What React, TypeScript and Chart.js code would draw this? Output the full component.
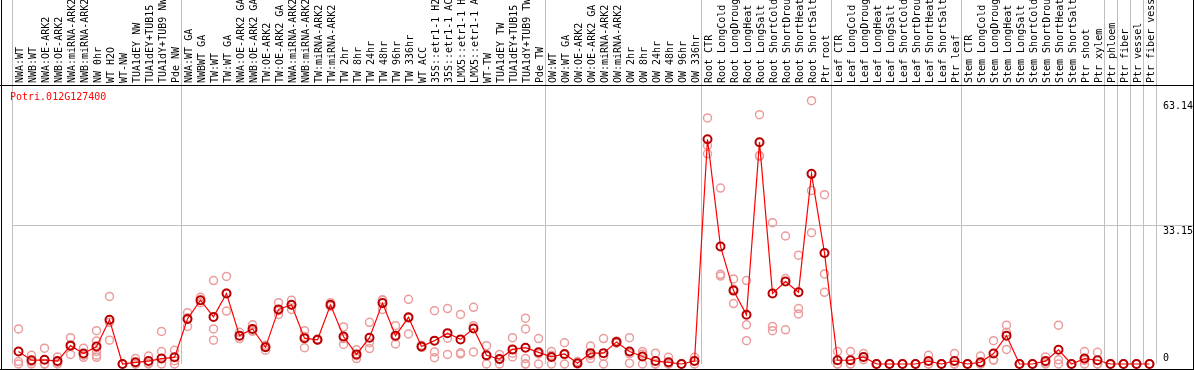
import React, { useEffect, useRef } from 'react';
import { Chart, registerables } from 'chart.js';

Chart.register(...registerables);

const geneId = 'Potri.012G127400';

const categories = [
  'NWA:WT', 'NWB:WT', 'NWA:OE-ARK2', 'NWB:OE-ARK2', 'NWA:miRNA-ARK2', 'NWB:miRNA-ARK2',
  'NW 0hr', 'WT H2O', 'WT-NW', 'TUA1dEY NW', 'TUA1dEY+TUB15 NW', 'TUA1dY+TUB9 NW', 'Pde NW',
  'NWA:WT GA', 'NWBWT GA', 'TW:WT', 'TW:WT GA', 'NWA:OE-ARK2 GA', 'NWB:OE-ARK2 GA',
  'TW:OE-ARK2', 'TW:OE-ARK2 GA', 'NWA:miRNA-ARK2 GA', 'NWB:miRNA-ARK2 GA', 'TW:miRNA-ARK2',
  'TW:miRNA-ARK2 GA', 'TW 2hr', 'TW 8hr', 'TW 24hr', 'TW 48hr', 'TW 96hr', 'TW 336hr', 'WT ACC',
  '35S::etr1-1 H2O', '35S::etr1-1 ACC', 'LMX5::etr1-1 H2O', 'LMX5::etr1-1 ACC', 'WT-TW',
  'TUA1dEY TW', 'TUA1dEY+TUB15 TW', 'TUA1dY+TUB9 TW', 'Pde TW',
  'OW:WT', 'OW:WT GA', 'OW:OE-ARK2', 'OW:OE-ARK2 GA', 'OW:miRNA-ARK2', 'OW:miRNA-ARK2 GA',
  'OW 2hr', 'OW 8hr', 'OW 24hr', 'OW 48hr', 'OW 96hr', 'OW 336hr',
  'Root CTR', 'Root LongCold', 'Root LongDrought', 'Root LongHeat', 'Root LongSalt',
  'Root ShortCold', 'Root ShortDrought', 'Root ShortHeat', 'Root ShortSalt', 'Ptr root',
  'Leaf CTR', 'Leaf LongCold', 'Leaf LongDrought', 'Leaf LongHeat', 'Leaf LongSalt',
  'Leaf ShortCold', 'Leaf ShortDrought', 'Leaf ShortHeat', 'Leaf ShortSalt', 'Ptr leaf',
  'Stem CTR', 'Stem LongCold', 'Stem LongDrought', 'Stem LongHeat', 'Stem LongSalt',
  'Stem ShortCold', 'Stem ShortDrought', 'Stem ShortHeat', 'Stem ShortSalt', 'Ptr shoot',
  'Ptr xylem', 'Ptr phloem', 'Ptr fiber', 'Ptr vessel', 'Ptr fiber vessel',
];

const meanValues = [
  3.0, 0.9, 1.0, 0.7, 4.4, 2.5, 4.2, 10.6, 0, 0.4, 0.7, 1.3, 1.6,
  10.8, 15.3, 11.3, 16.9, 6.8, 8.4, 4.0, 13.1, 14.2, 6.2, 5.8, 14.2, 6.6, 2.3, 6.3, 14.6, 6.8,
  11.2, 4.2, 5.6, 7.4, 5.9, 8.5, 2.1, 1.2, 3.5, 3.9, 2.8,
  1.7, 2.4, 0.2, 2.6, 2.6, 5.3, 3.0, 1.8, 0.7, 0.4, 0, 0.7,
  53.9, 28.2, 17.6, 11.8, 53.2, 16.9, 19.8, 17.2, 45.6, 26.6,
  0.9, 0.9, 1.7, 0, 0, 0, 0, 0.7, 0, 0.7,
  0, 0.4, 2.5, 6.8, 0, 0, 0.7, 3.4, 0, 1.3,
  0.9, 0, 0, 0, 0,
];

const rep1 = [
  8.4, 2.1, 3.8, 1.7, 6.3, 3.8, 8.0, 16.2, 0, 1.3, 1.9, 7.8, 3.3,
  12.3, 16.0, 20.0, 21.0, 7.6, 9.4, 3.3, 14.7, 15.3, 8.0, 5.7, 14.7, 8.9, 3.4, 10.0, 15.3, 9.2,
  15.5, 4.0, 12.8, 13.3, 11.9, 13.6, 4.4, 2.3, 6.3, 11.0, 6.1,
  3.0, 5.1, 0.6, 4.3, 6.1, 5.5, 6.3, 3.0, 2.6, 1.6, 0, 1.6,
  59.0, 42.2, 20.4, 20.0, 59.8, 33.9, 30.7, 26.1, 63.14, 40.6,
  3.0, 3.0, 2.5, 0, 0, 0, 0, 2.1, 0, 2.5,
  0, 1.9, 5.6, 9.3, 0, 0, 1.7, 9.3, 0, 3.0,
  2.8, 0, 0, 0, 0,
];

const rep2 = [
  0.6, 0.5, 0, 0.4, 2.3, 2.1, 5.5, 10.0, 0, 0, 0.2, 3.0, 0.8,
  9.0, 14.7, 8.4, 12.7, 6.1, 7.9, 4.5, 11.9, 13.1, 3.9, 6.0, 13.9, 4.7, 1.3, 3.7, 13.1, 4.8,
  7.2, 4.5, 2.9, 6.2, 2.7, 9.2, 1.9, 1.1, 2.6, 8.4, 2.4,
  2.1, 2.2, 0, 1.3, 1.8, 5.0, 2.5, 2.4, 0, 0, 0, 0.8,
  52.4, 21.5, 14.5, 9.4, 49.8, 9.0, 20.5, 13.3, 41.6, 21.6,
  0, 0, 1.0, 0, 0, 0, 0, 0, 0, 0,
  0, 0, 1.0, 7.6, 0, 0, 0.4, 1.0, 0, 0.9,
  0, 0, 0, 0, 0,
];

const rep3 = [
  0, 0, 0, 0, 4.6, 1.6, 3.0, 5.7, 0, 0, 0, 0, 0,
  11.1, 15.2, 5.7, 17.0, 6.8, 7.9, 4.2, 12.8, 14.1, 6.6, 5.8, 13.9, 6.1, 2.0, 5.1, 15.4, 6.5,
  11.0, 4.1, 1.5, 2.3, 2.4, 2.9, 0, 0, 1.7, 1.3, 0,
  0, 0, 0, 2.1, 0, 5.3, 0.2, 0, 0, 0, 0, 0,
  50.4, 21.1, 17.9, 5.6, 50.0, 8.0, 8.2, 12.0, 31.5, 17.2,
  0, 0, 1.6, 0, 0, 0, 0, 0, 0, 0,
  0, 0, 0.9, 3.5, 0, 0, 0, 0, 0, 0,
  0, 0, 0, 0, 0,
];

const rep4 = categories.map((_, i) => (i === 6 ? 2.1 : i === 39 ? 0 : null));
const rep5 = categories.map((_, i) => (i === 6 ? 1.6 : i === 39 ? 0 : null));

const yTickValues = [0, 33.15, 63.14];
const groupBoundaries = [0, 13, 41, 53, 63, 73, 84, 85, 86, 87, 88];
const Y_MAX = 66.67;

const MONO = '"DejaVu Sans Mono", "Liberation Mono", monospace';
const GRID = '#c0c0c0';
const W = 1194;
const H = 370;

const decorPlugin = {
  id: 'decor',
  afterDraw(chart: any) {
    const { ctx, chartArea, scales } = chart;
    ctx.save();
    ctx.fillStyle = '#000';
    ctx.fillRect(1, 0, 1, H);
    ctx.fillRect(W - 1, 0, 1, H);
    ctx.fillRect(0, H - 1, W, 1);
    ctx.fillRect(0, Math.round(chartArea.top) - 1, W, 1);

    ctx.font = `10px ${MONO}`;
    ctx.fillStyle = '#ff0000';
    ctx.textAlign = 'left';
    ctx.textBaseline = 'middle';
    ctx.fillText(geneId, 10, chartArea.top + 11);

    ctx.fillStyle = '#000';
    yTickValues.forEach((v) => {
      const py = scales.y.getPixelForValue(v);
      if (py > chartArea.bottom - 14) {
        ctx.textBaseline = 'bottom';
        ctx.fillText(String(v), chartArea.right + 7, chartArea.bottom - 1);
      } else {
        ctx.textBaseline = 'top';
        ctx.fillText(String(v), chartArea.right + 7, py + 1);
      }
    });
    ctx.restore();
  },
};

export default function App() {
  const ref = useRef<HTMLCanvasElement | null>(null);

  useEffect(() => {
    document.body.style.margin = '0';
    const canvas = ref.current;
    if (!canvas) return;
    const repStyle = {
      showLine: false,
      pointRadius: 4,
      pointBorderColor: '#eb9c9c',
      pointBorderWidth: 1.5,
      pointBackgroundColor: 'rgba(0,0,0,0)',
      clip: false as any,
    };
    const chart = new Chart(canvas, {
      type: 'line',
      data: {
        labels: categories,
        datasets: [
          {
            data: meanValues,
            borderColor: '#ff0000',
            borderWidth: 1.2,
            pointRadius: 4,
            pointBorderColor: '#b80000',
            pointBorderWidth: 2,
            pointBackgroundColor: 'rgba(0,0,0,0)',
            tension: 0,
            clip: false as any,
          },
          { data: rep1, ...repStyle },
          { data: rep2, ...repStyle },
          { data: rep3, ...repStyle },
          { data: rep4, ...repStyle },
          { data: rep5, ...repStyle },
        ],
      },
      options: {
        responsive: false,
        animation: false,
        devicePixelRatio: 1,
        layout: { padding: { left: 12, right: 0, top: 0, bottom: 1 } },
        plugins: { legend: { display: false }, tooltip: { enabled: false } },
        scales: {
          x: {
            type: 'category',
            position: 'top',
            offset: true,
            border: { display: false },
            grid: {
              offset: true,
              drawTicks: true,
              tickLength: 86,
              lineWidth: 1,
              color: (ctx: any) => {
                const i = ctx.type === 'tick' ? ctx.index : categories.length;
                return groupBoundaries.includes(i) ? GRID : 'rgba(0,0,0,0)';
              },
            },
            ticks: {
              autoSkip: false,
              minRotation: 90,
              maxRotation: 90,
              padding: -83,
              labelOffset: 14,
              color: '#000',
              font: { family: MONO, size: 10 },
            },
            afterFit: (s: any) => {
              s.height = 86;
            },
          },
          y: {
            position: 'right',
            min: 0,
            max: Y_MAX,
            border: { display: false },
            afterBuildTicks: (s: any) => {
              s.ticks = yTickValues.map((v) => ({ value: v }));
            },
            ticks: { display: false },
            grid: {
              drawTicks: true,
              tickLength: 38,
              color: (ctx: any) => (ctx.tick && ctx.tick.value === 33.15 ? GRID : 'rgba(0,0,0,0)'),
            },
            afterFit: (s: any) => {
              s.width = 38;
            },
          },
        },
      },
      plugins: [decorPlugin],
    });
    return () => chart.destroy();
  }, []);

  return (
    <div style={{ width: W, height: H, background: '#fff' }}>
      <canvas ref={ref} width={W} height={H} style={{ display: 'block' }} />
    </div>
  );
}
